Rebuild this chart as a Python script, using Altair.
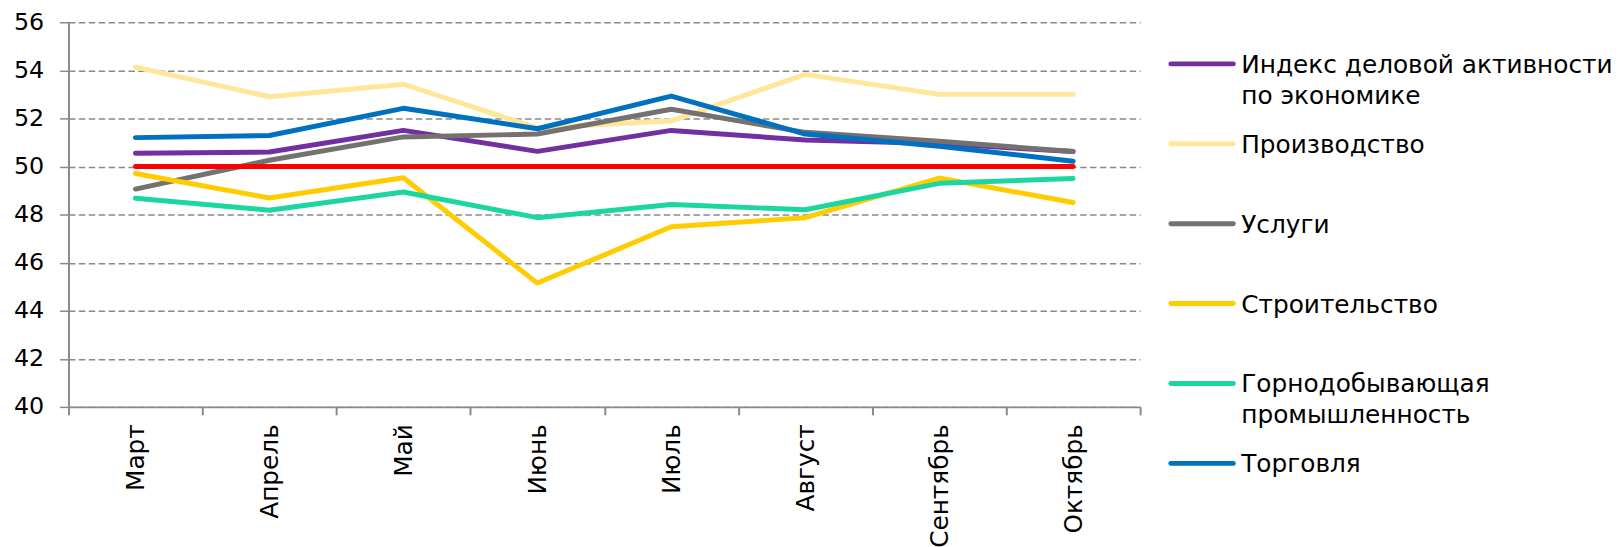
import altair as alt
import pandas as pd

months = ["Март", "Апрель", "Май", "Июнь", "Июль", "Август", "Сентябрь", "Октябрь"]

series_keys = ["Индекс", "Производство", "Услуги", "Строительство", "Горнодобывающая", "Торговля", "Порог"]
legend_labels = [
    "Индекс деловой активности\nпо экономике",
    "Производство",
    "Услуги",
    "Строительство",
    "Горнодобывающая\nпромышленность",
    "Торговля",
]
colors = ["#7030A0", "#FFE699", "#767171", "#FFCC00", "#1AD6A0", "#0070C0", "#FF0000"]

index_vals = [50.55, 50.6, 51.5, 50.63, 51.5, 51.1, 50.95, 50.62]
production = [54.13, 52.9, 53.42, 51.6, 51.9, 53.83, 53.0, 53.0]
services = [49.06, 50.26, 51.23, 51.35, 52.38, 51.42, 51.05, 50.62]
construction = [49.71, 48.69, 49.53, 45.15, 47.49, 47.87, 49.52, 48.5]
mining = [48.68, 48.18, 48.94, 47.87, 48.42, 48.2, 49.3, 49.5]
trade = [51.2, 51.29, 52.42, 51.57, 52.93, 51.35, 50.84, 50.22]
threshold = [50, 50, 50, 50, 50, 50, 50, 50]

y_ticks = [40, 42, 44, 46, 48, 50, 52, 54, 56]

all_series = [index_vals, production, services, construction, mining, trade, threshold]
rows = []
for order, (key, vals) in enumerate(zip(series_keys, all_series)):
    for m, v in zip(months, vals):
        rows.append({"series": key, "month": m, "value": v, "ord": order})
df = pd.DataFrame(rows)

gray = "#898989"
FONT = "DejaVu Sans"

main = alt.Chart(df).mark_line(strokeWidth=5, strokeCap="round", strokeJoin="round").encode(
    x=alt.X(
        "month:N",
        sort=months,
        scale=alt.Scale(type="band", paddingInner=0, paddingOuter=0),
        axis=alt.Axis(
            title=None, labelAngle=-90, labelAlign="right", labelBaseline="middle",
            tickBand="extent", tickSize=8, tickColor=gray, tickWidth=2,
            domainColor=gray, domainWidth=2, labelFontSize=25, labelColor="black",
            labelPadding=9, grid=False, labelFont=FONT,
        ),
    ),
    y=alt.Y(
        "value:Q",
        scale=alt.Scale(domain=[40, 56], nice=False, zero=False),
        axis=alt.Axis(
            title=None, values=y_ticks, grid=True, gridDash=[6.5, 3.5], gridColor=gray,
            gridWidth=1.5, tickSize=9, tickColor=gray, tickWidth=1.5,
            domainColor=gray, domainWidth=2, labelFontSize=24, labelColor="black",
            labelPadding=16, labelFont=FONT,
        ),
    ),
    color=alt.Color("series:N", scale=alt.Scale(domain=series_keys, range=colors), legend=None),
    detail="series:N",
    order="ord:Q",
).properties(width=1081, height=388)

leg_df = pd.DataFrame({"series": series_keys[:6], "label": legend_labels})
leg_y = alt.Y(
    "series:N", sort=series_keys[:6],
    scale=alt.Scale(type="point", range=[42, 445], padding=0), axis=None,
)
rules = alt.Chart(leg_df).mark_rule(strokeWidth=5, strokeCap="round").encode(
    y=leg_y,
    x=alt.value(10), x2=alt.value(73),
    color=alt.Color("series:N", scale=alt.Scale(domain=series_keys, range=colors), legend=None),
)
texts = alt.Chart(leg_df).mark_text(
    align="left", baseline="alphabetic", dy=9, fontSize=25, lineBreak="\n",
    lineHeight=31, color="black", font=FONT,
).encode(y=leg_y, x=alt.value(81), text="label:N")
legend = (rules + texts).properties(width=415, height=470)

chart = alt.hconcat(main, legend, spacing=20).properties(
    padding={"left": 5, "top": 0, "right": 0, "bottom": 0}
).configure(font=FONT).configure_view(stroke=None)

chart.save("out.html", embed_options={"renderer": "svg", "actions": False})
